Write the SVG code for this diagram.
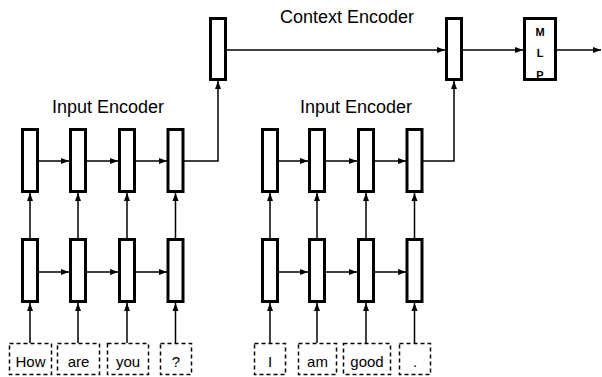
<svg xmlns="http://www.w3.org/2000/svg" width="602" height="377" viewBox="0 0 602 377">
<style>
.cell{fill:#fff;stroke:#000;stroke-width:3}
.word{fill:#fff;stroke:#000;stroke-width:1.5;stroke-dasharray:4 3}
.lbl{font-family:"Liberation Sans",Arial,sans-serif;font-size:18px;fill:#000;text-anchor:middle}
.wt{font-family:"Liberation Sans",Arial,sans-serif;font-size:15px;fill:#000;text-anchor:middle}
.mlp{font-family:"Liberation Sans",Arial,sans-serif;font-size:11px;font-weight:bold;fill:#000;text-anchor:middle}
.c{fill:none;stroke:#000;stroke-width:1.5;marker-end:url(#ah)}
</style>
<defs>
<marker id="ah" markerUnits="userSpaceOnUse" markerWidth="8" markerHeight="8" viewBox="0 0 8 8" refX="8" refY="4" orient="auto">
<path d="M0,1 L8,4 L0,7 Z" fill="#000"/>
</marker>
</defs>
<g id="connectors">
<path class="c" d="M39,161 H69"/>
<path class="c" d="M87,161 H118"/>
<path class="c" d="M136,161 H167"/>
<path class="c" d="M39,272 H69"/>
<path class="c" d="M87,272 H118"/>
<path class="c" d="M136,272 H167"/>
<path class="c" d="M30,238 V193"/>
<path class="c" d="M78,238 V193"/>
<path class="c" d="M127,238 V193"/>
<path class="c" d="M175.5,238 V193"/>
<path class="c" d="M30,343 V303"/>
<path class="c" d="M78,343 V303"/>
<path class="c" d="M127,343 V303"/>
<path class="c" d="M175.5,343 V303"/>
<path class="c" d="M184,161 H218 V81"/>
<path class="c" d="M278,161 H308"/>
<path class="c" d="M326,161 H357"/>
<path class="c" d="M374,161 H406"/>
<path class="c" d="M278,272 H308"/>
<path class="c" d="M326,272 H357"/>
<path class="c" d="M374,272 H406"/>
<path class="c" d="M270,238 V193"/>
<path class="c" d="M317,238 V193"/>
<path class="c" d="M366,238 V193"/>
<path class="c" d="M414.5,238 V193"/>
<path class="c" d="M270,343 V303"/>
<path class="c" d="M317,343 V303"/>
<path class="c" d="M366,343 V303"/>
<path class="c" d="M414.5,343 V303"/>
<path class="c" d="M423,161 H454 V81"/>
<path class="c" d="M227,50 H445"/>
<path class="c" d="M463,50 H523"/>
<path class="c" d="M557,50 H601"/>
</g>
<g id="context-encoder">
<text class="lbl" x="347" y="23">Context Encoder</text>
<rect id="ctx1" class="cell" x="210.5" y="18.5" width="15" height="61"/>
<rect id="ctx2" class="cell" x="446.5" y="18.5" width="15" height="61"/>
</g>
<g id="mlp">
<rect class="cell" x="524.5" y="18.5" width="31" height="61"/>
<text class="mlp" x="540" y="35.5">M</text>
<text class="mlp" x="540" y="57">L</text>
<text class="mlp" x="540" y="79">P</text>
<rect x="524.5" y="18.5" width="31" height="61" fill="none" stroke="#000" stroke-width="3"/>
</g>
<g id="input-encoder-1">
<text class="lbl" x="108" y="113">Input Encoder</text>
<rect class="cell" x="22.5" y="129.5" width="15" height="62"/>
<rect class="cell" x="70.5" y="129.5" width="15" height="62"/>
<rect class="cell" x="119.5" y="129.5" width="15" height="62"/>
<rect class="cell" x="168" y="129.5" width="15" height="62"/>
<rect class="cell" x="22.5" y="239.5" width="15" height="62"/>
<rect class="cell" x="70.5" y="239.5" width="15" height="62"/>
<rect class="cell" x="119.5" y="239.5" width="15" height="62"/>
<rect class="cell" x="168" y="239.5" width="15" height="62"/>
</g>
<g id="input-encoder-2">
<text class="lbl" x="356" y="113">Input Encoder</text>
<rect class="cell" x="262.5" y="129.5" width="15" height="62"/>
<rect class="cell" x="309.5" y="129.5" width="15" height="62"/>
<rect class="cell" x="358.5" y="129.5" width="15" height="62"/>
<rect class="cell" x="407" y="129.5" width="15" height="62"/>
<rect class="cell" x="262.5" y="239.5" width="15" height="62"/>
<rect class="cell" x="309.5" y="239.5" width="15" height="62"/>
<rect class="cell" x="358.5" y="239.5" width="15" height="62"/>
<rect class="cell" x="407" y="239.5" width="15" height="62"/>
</g>
<g id="words-1">
<rect class="word" x="9.5" y="343.5" width="42" height="31"/><text class="wt" x="30.5" y="367">How</text>
<rect class="word" x="57.5" y="343.5" width="42" height="31"/><text class="wt" x="78.5" y="367">are</text>
<rect class="word" x="107.5" y="343.5" width="41" height="31"/><text class="wt" x="128" y="367">you</text>
<rect class="word" x="160.5" y="343.5" width="31" height="31"/><text class="wt" x="176" y="367">?</text>
</g>
<g id="words-2">
<rect class="word" x="254.5" y="343.5" width="31" height="31"/><text class="wt" x="270" y="367">I</text>
<rect class="word" x="298.5" y="343.5" width="38" height="31"/><text class="wt" x="317.5" y="367">am</text>
<rect class="word" x="343.5" y="343.5" width="47" height="31"/><text class="wt" x="367" y="367">good</text>
<rect class="word" x="399.5" y="343.5" width="31" height="31"/><text class="wt" x="415" y="367">.</text>
</g>
</svg>
